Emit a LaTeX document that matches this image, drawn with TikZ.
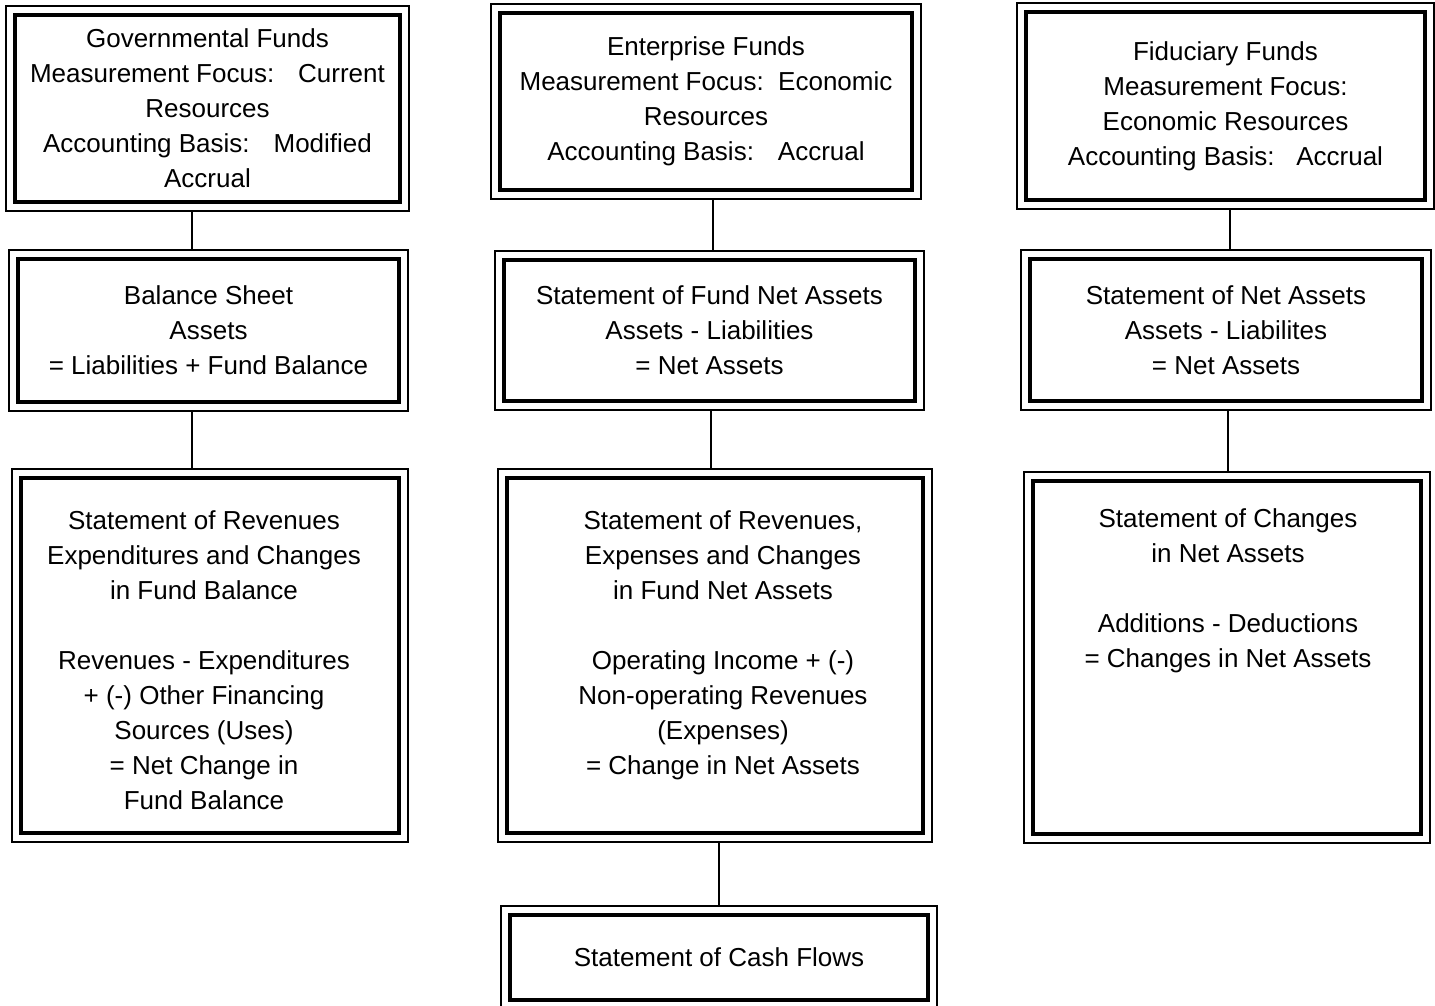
\documentclass[tikz,border=0pt]{standalone}
\usepackage{fontspec}
\setmainfont{Liberation Sans}
\usetikzlibrary{positioning}

\begin{document}
\begin{tikzpicture}[x=0.5pt, y=-0.5pt,
    fundbox/.style={draw, line width=2.4pt, outer sep=4.6pt, inner sep=0pt, align=center,
      font=\fontsize{13}{17.5}\selectfont},
    boxtext/.style={inner sep=0pt, align=center, font=\fontsize{13}{17.5}\selectfont},
    outerframe/.style={line width=0.9pt},
    conn/.style={line width=1pt}]
  \useasboundingbox (0,0) rectangle (1435,1006);

  % Governmental funds
  \node[fundbox, minimum width=192.5pt, minimum height=93.5pt] (govA) at (207.5,108.5)
    {Governmental Funds \\ Measurement Focus:\hspace{0.55em} Current \\ Resources \\
     Accounting Basis:\hspace{0.55em} Modified \\ Accrual};
  \node[fundbox, minimum width=190.5pt, minimum height=71.5pt] (govB) at (208.5,330.5)
    {Balance Sheet \\ Assets \\ = Liabilities + Fund Balance};
  \node[fundbox, minimum width=189pt, minimum height=177.5pt] (govC) at (210,655.5) {};
  \node[boxtext, below=20.5pt of govC.north, xshift=-3pt] (govCtext)
    {Statement of Revenues \\ Expenditures and Changes \\ in Fund Balance \\[17.5pt]
     Revenues - Expenditures \\ + (-) Other Financing \\ Sources (Uses) \\
     = Net Change in \\ Fund Balance};

  % Enterprise funds
  \node[fundbox, minimum width=206pt, minimum height=88.5pt] (entA) at (706,101.5)
    {Enterprise Funds \\ Measurement Focus:~~Economic \\ Resources \\
     Accounting Basis:\hspace{0.55em} Accrual};
  \node[fundbox, minimum width=205.5pt, minimum height=70.5pt] (entB) at (709.5,330.5)
    {Statement of Fund Net Assets \\ Assets - Liabilities \\ = Net Assets};
  \node[fundbox, minimum width=208pt, minimum height=177.5pt] (entC) at (715,655.5) {};
  \node[boxtext, below=20.5pt of entC.north, xshift=4pt] (entCtext)
    {Statement of Revenues, \\ Expenses and Changes \\ in Fund Net Assets \\[17.5pt]
     Operating Income + (-) \\ Non-operating Revenues \\ (Expenses) \\
     = Change in Net Assets};
  \node[fundbox, minimum width=209pt, minimum height=42.5pt] (entD) at (719,957.5)
    {Statement of Cash Flows};

  % Fiduciary funds
  \node[fundbox, minimum width=199.5pt, minimum height=94pt] (fidA) at (1225.5,106)
    {Fiduciary Funds \\ Measurement Focus: \\ Economic Resources \\
     Accounting Basis:~~~Accrual};
  \node[fundbox, minimum width=196pt, minimum height=71pt] (fidB) at (1226,330)
    {Statement of Net Assets \\ Assets - Liabilites \\ = Net Assets};
  \node[fundbox, minimum width=194pt, minimum height=176.5pt] (fidC) at (1227,657.5) {};
  \node[boxtext, below=18pt of fidC.north, xshift=0.5pt] (fidCtext)
    {Statement of Changes \\ in Net Assets \\[17.5pt]
     Additions - Deductions \\ = Changes in Net Assets};

  % Outer frames
  \foreach \b in {govA,govB,govC,entA,entB,entC,entD,fidA,fidB,fidC}
    \draw[outerframe] (\b.south west) rectangle (\b.north east);

  % Lines
  \draw[conn] ([xshift=-7.75pt]govA.south) -- ([xshift=-7.75pt]govA.south |- govB.north);
  \draw[conn] ([xshift=-8.25pt]govB.south) -- ([xshift=-8.25pt]govB.south |- govC.north);
  \draw[conn] ([xshift=3.5pt]entA.south) -- ([xshift=3.5pt]entA.south |- entB.north);
  \draw[conn] ([xshift=0.75pt]entB.south) -- ([xshift=0.75pt]entB.south |- entC.north);
  \draw[conn] ([xshift=2pt]entC.south) -- ([xshift=2pt]entC.south |- entD.north);
  \draw[conn] ([xshift=2.25pt]fidA.south) -- ([xshift=2.25pt]fidA.south |- fidB.north);
  \draw[conn] ([xshift=1pt]fidB.south) -- ([xshift=1pt]fidB.south |- fidC.north);
\end{tikzpicture}
\end{document}
